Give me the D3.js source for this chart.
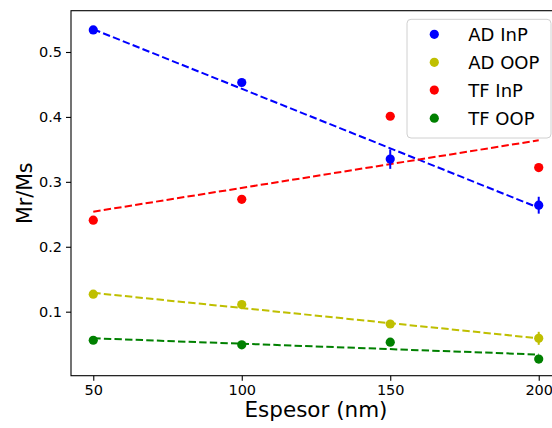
<!DOCTYPE html>
<html>
<head>
<meta charset="utf-8">
<script src="https://cdn.jsdelivr.net/npm/d3@7"></script>
<style>
  html, body { margin: 0; padding: 0; background: #fff; }
  svg { display: block; font-family: "DejaVu Sans", sans-serif; }
</style>
</head>
<body>
<svg id="chart" width="552" height="428"></svg>
<script>
// ---- data ----
const thickness = [50, 100, 150, 200];
const seriesNames = ["AD InP", "AD OOP", "TF InP", "TF OOP"];
const seriesColors = ["#0000ff", "#bfbf00", "#ff0000", "#008000"];
const adInP  = [0.534, 0.453, 0.335, 0.264];
const adOOP  = [0.127, 0.111, 0.081, 0.059];
const tfInP  = [0.241, 0.273, 0.401, 0.322];
const tfOOP  = [0.056, 0.049, 0.053, 0.027];
const adInPErr = [0, 0, 0.015, 0.013];
const adOOPErr = [0, 0, 0, 0.010];
const tfInPErr = [0, 0, 0, 0];
const tfOOPErr = [0, 0, 0, 0];
// fitted (dashed) lines, endpoints at x = 50 and x = 200
const fitX = [50, 200];
const adInPFit = [0.535, 0.260];
const adOOPFit = [0.129, 0.059];
const tfInPFit = [0.254, 0.364];
const tfOOPFit = [0.059, 0.034];
const xTicks = [50, 100, 150, 200];
const yTicks = [0.1, 0.2, 0.3, 0.4, 0.5];

const values = [adInP, adOOP, tfInP, tfOOP];
const errs = [adInPErr, adOOPErr, tfInPErr, tfOOPErr];
const fits = [adInPFit, adOOPFit, tfInPFit, tfOOPFit];

// ---- layout ----
const L = 71, T = 10.7, R = 561, B = 375.7;
const svg = d3.select("#chart");
const x = d3.scaleLinear().domain([42.5, 207.5]).range([L, R]);
const y = d3.scaleLinear().domain([0.0014, 0.5636]).range([B, T]);

const plot = svg.append("g");

// fit lines
fits.forEach((f, i) => {
  plot.append("path")
    .datum(fitX.map((xv, k) => [xv, f[k]]))
    .attr("d", d3.line().x(d => x(d[0])).y(d => y(d[1])))
    .attr("fill", "none")
    .attr("stroke", seriesColors[i])
    .attr("stroke-width", 2)
    .attr("stroke-dasharray", "7.4,3.2");
});

// error bars
values.forEach((vals, i) => {
  plot.selectAll(null)
    .data(thickness.map((t, k) => ({t, v: vals[k], e: errs[i][k]})).filter(d => d.e > 0))
    .enter().append("line")
    .attr("x1", d => x(d.t)).attr("x2", d => x(d.t))
    .attr("y1", d => y(d.v - d.e)).attr("y2", d => y(d.v + d.e))
    .attr("stroke", seriesColors[i])
    .attr("stroke-width", 2);
});

// points
values.forEach((vals, i) => {
  plot.selectAll(null)
    .data(thickness.map((t, k) => ({t, v: vals[k]})))
    .enter().append("circle")
    .attr("cx", d => x(d.t)).attr("cy", d => y(d.v))
    .attr("r", 4.6)
    .attr("fill", seriesColors[i]);
});

// axes
const xAxis = svg.append("g")
  .attr("transform", `translate(0,${B})`)
  .call(d3.axisBottom(x).tickValues(xTicks).tickFormat(d3.format("d")).tickSizeOuter(0).tickSize(5).tickPadding(4));
const yAxis = svg.append("g")
  .attr("transform", `translate(${L},0)`)
  .call(d3.axisLeft(y).tickValues(yTicks).tickFormat(d3.format(".1f")).tickSizeOuter(0).tickSize(5).tickPadding(4));
[xAxis, yAxis].forEach(a => {
  a.select(".domain").remove();
  a.selectAll("text").attr("font-size", 14.5).attr("fill", "#000").attr("font-family", "DejaVu Sans");
  a.selectAll("line").attr("stroke", "#000").attr("stroke-width", 1.1);
});

// frame
svg.append("rect")
  .attr("x", L).attr("y", T).attr("width", R - L).attr("height", B - T)
  .attr("fill", "none").attr("stroke", "#000").attr("stroke-width", 1.1);

// axis labels
svg.append("text")
  .attr("x", (L + R) / 2).attr("y", 417)
  .attr("text-anchor", "middle").attr("font-size", 21.5).attr("fill", "#000")
  .text("Espesor (nm)");
svg.append("text")
  .attr("transform", `translate(32,${(T + B) / 2}) rotate(-90)`)
  .attr("text-anchor", "middle").attr("font-size", 20.5).attr("fill", "#000")
  .text("Mr/Ms");

// legend
const lg = svg.append("g");
lg.append("rect")
  .attr("x", 407).attr("y", 19.3).attr("width", 144).attr("height", 118.7)
  .attr("rx", 4).attr("ry", 4)
  .attr("fill", "#fff").attr("fill-opacity", 0.8)
  .attr("stroke", "#d0d0d0").attr("stroke-width", 1);
const legY = [34.3, 62.3, 90.1, 118.2];
seriesNames.forEach((name, i) => {
  lg.append("circle").attr("cx", 434.3).attr("cy", legY[i]).attr("r", 4.6).attr("fill", seriesColors[i]);
  lg.append("text").attr("x", 468.3).attr("y", legY[i] + 6.5)
    .attr("font-size", 18).attr("fill", "#000").text(name);
});
</script>
</body>
</html>
